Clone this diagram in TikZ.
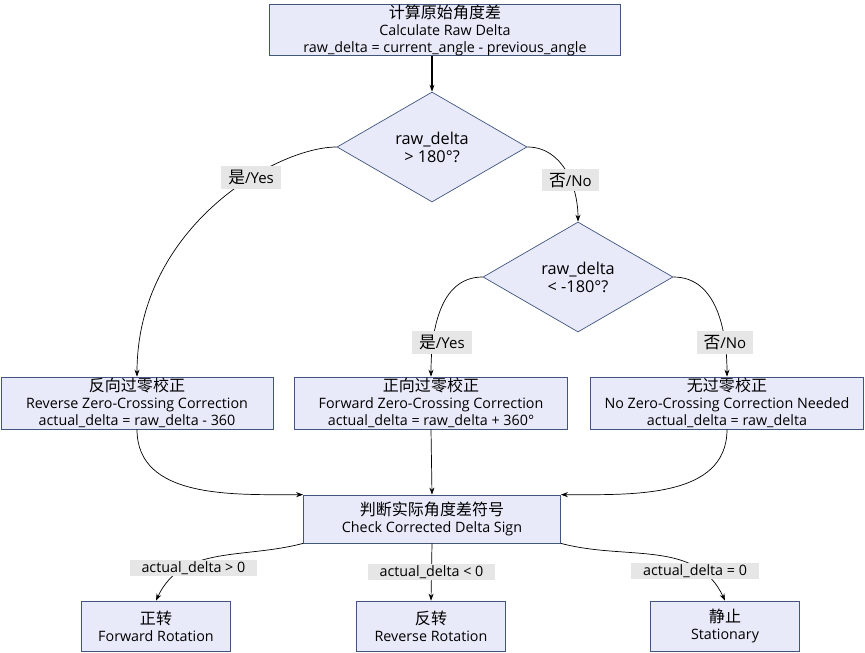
\documentclass[tikz,border=0pt]{standalone}
\usepackage{fontspec}
\setmainfont{Open Sans}
\newfontfamily\cjk[Scale=1.12]{Noto Sans CJK SC}
\usetikzlibrary{shapes.geometric,arrows.meta,positioning}
\definecolor{boxfill}{RGB}{232,234,250}
\definecolor{boxline}{RGB}{65,85,125}
\definecolor{lblgray}{RGB}{230,230,230}

\begin{document}
\begin{tikzpicture}[x=1pt,y=-1pt,font=\fontsize{14.3}{17}\selectfont,line width=0.7pt]
  \tikzstyle{proc}=[rectangle,draw=boxline,fill=boxfill,align=center,inner sep=0pt]
  \tikzstyle{decide}=[diamond,draw=boxline,fill=boxfill,align=center,inner sep=0pt,aspect=1.73,minimum width=190pt,minimum height=110pt,font=\fontsize{16.3}{18}\selectfont]
  \tikzstyle{yesno}=[fill=lblgray,inner xsep=7pt,inner ysep=4pt,font=\fontsize{15}{17}\selectfont]
  \tikzstyle{cond}=[fill=lblgray,inner xsep=12pt,inner ysep=1.5pt]
  \tikzstyle{conn}=[-{Stealth[length=7pt,width=5pt]}]
  \useasboundingbox (0,0) rectangle (865,653);
  \node[proc,minimum width=351pt,minimum height=50pt] (raw) at (445,30) {{\cjk 计算原始角度差}\\Calculate Raw Delta\\raw\_delta = current\_angle - previous\_angle};
  \node[decide] (big) at (432,147) {raw\_delta\\> 180°?};
  \node[decide] (small) at (578,277) {raw\_delta\\< -180°?};
  \node[proc,minimum width=272pt,minimum height=52pt] (rev) at (137,403) {{\cjk 反向过零校正}\\Reverse Zero-Crossing Correction\\actual\_delta = raw\_delta - 360};
  \node[proc,minimum width=273pt,minimum height=52pt] (fwd) at (431,403) {{\cjk 正向过零校正}\\Forward Zero-Crossing Correction\\actual\_delta = raw\_delta + 360°};
  \node[proc,minimum width=273pt,minimum height=52pt] (none) at (727,403) {{\cjk 无过零校正}\\No Zero-Crossing Correction Needed\\actual\_delta = raw\_delta};
  \node[proc,minimum width=257pt,minimum height=48pt] (sign) at (432,519) {{\cjk 判断实际角度差符号}\\Check Corrected Delta Sign};
  \node[proc,minimum width=149pt,minimum height=50pt] (cw) at (156,626) {{\cjk 正转}\\Forward Rotation};
  \node[proc,minimum width=149pt,minimum height=50pt] (ccw) at (431,626) {{\cjk 反转}\\Reverse Rotation};
  \node[proc,minimum width=149pt,minimum height=50pt] (stop) at (725,626) {{\cjk 静止}\\Stationary};

  \draw[conn,line width=2.2pt] (raw.south -| big.north) -- (big.north);
  \draw[conn] (big.west) to[out=180,in=90,out distance=60pt,in distance=150pt] node[yesno,pos=0.36]{{\cjk 是}/Yes} (rev.north);
  \draw[conn] (big.east) to[out=0,in=90] node[yesno,pos=0.6]{{\cjk 否}/No} (small.north);
  \draw[conn] (small.west) to[out=180,in=90] node[yesno,pos=0.75,xshift=9pt]{{\cjk 是}/Yes} (fwd.north);
  \draw[conn] (small.east) to[out=0,in=90] node[yesno,pos=0.75]{{\cjk 否}/No} (none.north);
  \draw[conn] (rev.south) to[out=270,in=180] (sign.north west);
  \draw[conn] (fwd.south) -- (sign.north);
  \draw[conn] (none.south) to[out=270,in=0] (sign.north east);
  \draw[conn] (sign.south west) to[out=195,in=65] node[cond,pos=0.66,yshift=-4pt]{actual\_delta > 0} (cw.north);
  \draw[conn] (sign.south) -- node[cond]{actual\_delta < 0} (ccw.north);
  \draw[conn] (sign.south east) to[out=-15,in=115] node[cond,pos=0.74,yshift=-4pt]{actual\_delta = 0} (stop.north);
\end{tikzpicture}
\end{document}
